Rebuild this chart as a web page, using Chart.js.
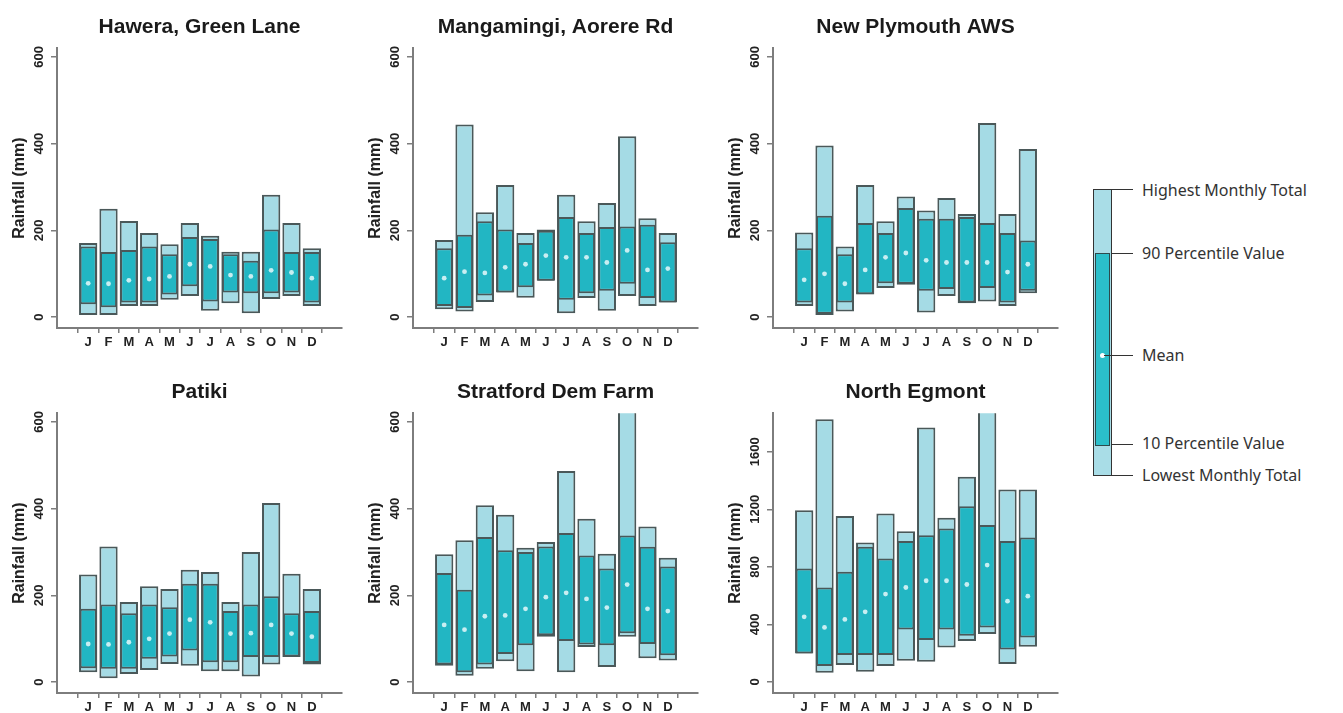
<!DOCTYPE html>
<html>
<head>
<meta charset="utf-8">
<title>Monthly rainfall</title>
<script src="https://cdn.jsdelivr.net/npm/chart.js@4.4.1/dist/chart.umd.min.js"></script>
<style>
  html, body { margin: 0; padding: 0; background: #fff; overflow: hidden; }
  #wrap { position: relative; width: 1343px; height: 713px; }
  canvas { position: absolute; }
  .key { position: absolute; }
  .lbl { position: absolute; font: 16px "Noto Sans", sans-serif; color: #333; white-space: nowrap; transform: translateY(-50%); left: 1142px; }
  .tick { position: absolute; left: 1112px; width: 21px; height: 1px; background: #333; }
</style>
</head>
<body>
<div id="wrap">
  <canvas id="c1" width="350" height="348" style="left:0px;top:0px"></canvas>
  <canvas id="c2" width="350" height="348" style="left:356px;top:0px"></canvas>
  <canvas id="c3" width="350" height="348" style="left:716px;top:0px"></canvas>
  <canvas id="c4" width="350" height="348" style="left:0px;top:365px"></canvas>
  <canvas id="c5" width="350" height="348" style="left:356px;top:365px"></canvas>
  <canvas id="c6" width="350" height="348" style="left:716px;top:365px"></canvas>

  <!-- key -->
  <div class="key" style="left:1093px;top:189px;width:17px;height:285px;background:#a9dde7;border:1px solid #333"></div>
  <div class="key" style="left:1095px;top:253px;width:13px;height:191px;background:#2bbfca;border:1px solid #2d4a4c"></div>
  <div class="key" style="left:1100px;top:353px;width:5px;height:5px;border-radius:50%;background:#fff"></div>
  <div class="tick" style="top:189px"></div>
  <div class="tick" style="top:253px"></div>
  <div class="tick" style="left:1104px;width:29px;top:355px"></div>
  <div class="tick" style="top:444px"></div>
  <div class="tick" style="top:475px"></div>
  <div class="lbl" style="top:190px">Highest Monthly Total</div>
  <div class="lbl" style="top:253px">90 Percentile Value</div>
  <div class="lbl" style="top:355px">Mean</div>
  <div class="lbl" style="top:443px">10 Percentile Value</div>
  <div class="lbl" style="top:475px">Lowest Monthly Total</div>
</div>
<script>
const months = ['J', 'F', 'M', 'A', 'M', 'J', 'J', 'A', 'S', 'O', 'N', 'D'];
const ticks600 = [0, 200, 400, 600];
const ticks1600 = [0, 400, 800, 1200, 1600];

// Hawera, Green Lane
const haweraHi = [171, 250, 222, 194, 168, 217, 188, 151, 151, 282, 217, 159];
const haweraP90 = [163, 150, 155, 163, 145, 185, 180, 145, 130, 202, 150, 150];
const haweraMean = [78, 77, 85, 88, 94, 122, 117, 97, 94, 108, 103, 90];
const haweraP10 = [30, 23, 34, 34, 52, 71, 36, 57, 55, 55, 57, 34];
const haweraLo = [5, 5, 26, 26, 40, 49, 15, 32, 9, 42, 49, 26];

// Mangamingi, Aorere Rd
const mangaHi = [178, 444, 242, 305, 194, 202, 282, 221, 263, 417, 228, 194];
const mangaP90 = [159, 190, 221, 202, 171, 199, 231, 194, 208, 209, 213, 173];
const mangaMean = [90, 105, 102, 115, 122, 142, 138, 138, 126, 154, 109, 112];
const mangaP10 = [26, 21, 50, 57, 69, 84, 40, 55, 61, 77, 44, 34];
const mangaLo = [18, 13, 35, 57, 45, 84, 9, 44, 15, 49, 26, 34];

// New Plymouth AWS
const plymHi = [195, 396, 163, 305, 221, 278, 246, 275, 238, 448, 238, 388];
const plymP90 = [159, 234, 145, 217, 194, 252, 227, 227, 231, 217, 194, 177];
const plymMean = [86, 100, 77, 109, 138, 148, 131, 126, 126, 126, 104, 122];
const plymP10 = [34, 8, 34, 53, 78, 77, 61, 65, 34, 67, 34, 61];
const plymLo = [26, 5, 13, 52, 67, 75, 11, 49, 32, 36, 26, 55];

// Patiki
const patikiHi = [248, 313, 185, 221, 215, 259, 254, 185, 300, 413, 250, 215];
const patikiP90 = [169, 179, 159, 179, 173, 227, 227, 164, 179, 198, 159, 164];
const patikiMean = [88, 87, 92, 100, 112, 144, 138, 112, 113, 132, 112, 105];
const patikiP10 = [32, 31, 31, 54, 59, 73, 46, 46, 58, 58, 59, 44];
const patikiLo = [23, 9, 19, 28, 42, 38, 25, 25, 13, 41, 58, 41];

// Stratford Dem Farm
const stratHi = [295, 327, 408, 386, 310, 323, 487, 377, 296, 680, 359, 287];
const stratP90 = [252, 213, 335, 304, 300, 313, 344, 292, 262, 338, 312, 267];
const stratMean = [132, 121, 152, 154, 169, 196, 206, 192, 172, 225, 169, 164];
const stratP10 = [41, 23, 41, 65, 85, 108, 95, 87, 85, 113, 88, 62];
const stratLo = [38, 15, 31, 48, 25, 105, 23, 81, 35, 105, 55, 50];

// North Egmont
const egmontHi = [1194, 1827, 1153, 969, 1171, 1048, 1769, 1141, 1426, 1950, 1338, 1338];
const egmontP90 = [788, 656, 765, 939, 858, 979, 1020, 1067, 1222, 1090, 979, 1004];
const egmontMean = [452, 378, 434, 487, 610, 656, 703, 703, 677, 812, 561, 596];
const egmontP10 = [197, 109, 186, 186, 186, 364, 290, 364, 320, 378, 225, 308];
const egmontLo = [197, 63, 116, 70, 109, 146, 139, 239, 283, 332, 123, 243];

const lightBlue = '#a5dbe5';
const teal = '#22b6c3';
const edge = '#4a5859';
const axisGrey = '#7d7d7d';

// y tick labels are drawn turned on their side, like the original
const sideTicks = {
  id: 'sideTicks',
  afterDraw(chart) {
    const s = chart.scales.y;
    const ctx = chart.ctx;
    ctx.save();
    ctx.font = 'bold 13px "Liberation Sans", Arial, sans-serif';
    ctx.fillStyle = '#222';
    ctx.textAlign = 'center';
    ctx.textBaseline = 'middle';
    s.ticks.forEach(t => {
      const py = s.getPixelForValue(t.value);
      ctx.save();
      ctx.translate(s.right - 18, py);
      ctx.rotate(-Math.PI / 2);
      ctx.fillText(String(t.value), 0, 0);
      ctx.restore();
    });
    ctx.restore();
  }
};

function makePanel(id, title, lo, p10, mean, p90, hi, yMin, yMax, yTicks) {
  const ctx = document.getElementById(id).getContext('2d');
  new Chart(ctx, {
    type: 'bar',
    data: {
      datasets: [{
        type: 'scatter',
        data: mean.map((v, i) => ({ x: i, y: v })),
        pointRadius: 2.4,
        pointBackgroundColor: '#c8eef2',
        pointBorderWidth: 0,
        order: 1
      }, {
        data: months.map((m, i) => ({ x: i, y: [p10[i], p90[i]] })),
        backgroundColor: teal,
        borderColor: edge,
        borderWidth: 2,
        borderSkipped: false,
        grouped: false,
        categoryPercentage: 1,
        barPercentage: 0.84,
        clip: 0,
        order: 2
      }, {
        data: months.map((m, i) => ({ x: i, y: [lo[i], hi[i]] })),
        backgroundColor: lightBlue,
        borderColor: edge,
        borderWidth: 2,
        borderSkipped: false,
        grouped: false,
        categoryPercentage: 1,
        barPercentage: 0.9,
        clip: 0,
        order: 3
      }]
    },
    options: {
      responsive: false,
      animation: false,
      layout: { padding: { left: 0, right: 8, top: 0, bottom: 0 } },
      plugins: {
        legend: { display: false },
        tooltip: { enabled: false },
        title: {
          display: true,
          text: title,
          fullSize: false,
          color: '#1a1a1a',
          font: { family: '"Liberation Sans", Arial, sans-serif', size: 21, weight: 'bold' },
          padding: { top: 14.5, bottom: 8.6 }
        }
      },
      scales: {
        x: {
          type: 'linear',
          min: -0.95,
          max: 11.9,
          afterBuildTicks: s => { s.ticks = months.map((m, i) => ({ value: i })); },
          afterFit: s => { s.height = 20; },
          ticks: {
            autoSkip: false,
            maxRotation: 0,
            padding: 2,
            color: '#222',
            font: { family: '"Liberation Sans", Arial, sans-serif', size: 13, weight: 'bold' },
            callback: v => months[v]
          },
          grid: { drawOnChartArea: false, drawTicks: true, tickLength: 5, color: axisGrey, lineWidth: 1.5 },
          border: { display: true, color: axisGrey, width: 2 }
        },
        y: {
          min: yMin,
          max: yMax,
          afterBuildTicks: s => { s.ticks = yTicks.map(v => ({ value: v })); },
          afterFit: s => { s.width = 57; },
          ticks: { display: false },
          grid: { drawOnChartArea: false, drawTicks: true, tickLength: 6, color: axisGrey, lineWidth: 1.5 },
          border: { display: true, color: axisGrey, width: 2 },
          title: {
            display: true,
            text: 'Rainfall (mm)',
            color: '#222',
            font: { family: '"Liberation Sans", Arial, sans-serif', size: 16, weight: 'bold' },
            padding: { top: 10, bottom: 0 }
          }
        }
      }
    },
    plugins: [sideTicks]
  });
}

makePanel('c1', 'Hawera, Green Lane', haweraLo, haweraP10, haweraMean, haweraP90, haweraHi, -25, 620, ticks600);
makePanel('c2', 'Mangamingi, Aorere Rd', mangaLo, mangaP10, mangaMean, mangaP90, mangaHi, -25, 620, ticks600);
makePanel('c3', 'New Plymouth AWS', plymLo, plymP10, plymMean, plymP90, plymHi, -25, 620, ticks600);
makePanel('c4', 'Patiki', patikiLo, patikiP10, patikiMean, patikiP90, patikiHi, -25, 620, ticks600);
makePanel('c5', 'Stratford Dem Farm', stratLo, stratP10, stratMean, stratP90, stratHi, -25, 620, ticks600);
makePanel('c6', 'North Egmont', egmontLo, egmontP10, egmontMean, egmontP90, egmontHi, -78, 1868, ticks1600);
</script>
</body>
</html>
